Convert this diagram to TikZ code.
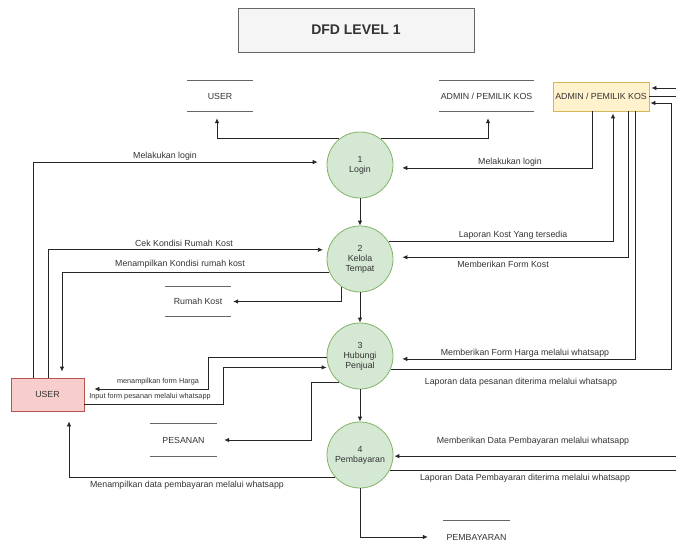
\documentclass[tikz,border=0pt]{standalone}
\usepackage{fontspec}
\setmainfont{Liberation Sans}
\usetikzlibrary{
    arrows.meta,
    calc,
    positioning
}
\definecolor{txt}{HTML}{333333}
\definecolor{procfill}{HTML}{D5E8D4}
\definecolor{procline}{HTML}{82B366}
\definecolor{userfill}{HTML}{F8CECC}
\definecolor{userline}{HTML}{B85450}
\definecolor{adminfill}{HTML}{FFF2CC}
\definecolor{adminline}{HTML}{D6B656}
\definecolor{titlefill}{HTML}{F5F5F5}
\definecolor{titleline}{HTML}{666666}

\begin{document}
\begin{tikzpicture}[x=1pt, y=-1pt, >={Latex[length=5pt,width=4.5pt]},
    every node/.style={font=\fontsize{8.8}{10}\selectfont, text=txt},
    proc/.style={circle, draw=procline, fill=procfill, line width=0.8pt,
        minimum size=66pt, inner sep=0pt, align=center},
    entity/.style={rectangle, line width=0.8pt, inner sep=0pt},
    store/.style={inner sep=0pt, minimum height=30pt},
    storeline/.style={draw=titleline, line width=0.8pt},
    lbl/.style={inner sep=0pt},
    small/.style={inner sep=0pt, font=\fontsize{7.3}{8}\selectfont},
    flow/.style={->, line width=0.8pt, draw=black!85}]
                    \path[use as bounding box, clip] (0,0) rectangle (676,548);

                    % entities, processes, stores
                    \node[entity, draw=titleline, fill=titlefill, minimum width=236pt, minimum height=44pt,
                        font=\fontsize{14}{16}\selectfont\bfseries] (judul) at (356, 30) {DFD LEVEL 1};
                    \node[entity, draw=adminline, fill=adminfill, minimum width=96pt, minimum height=29pt] (admin) at (601, 96.5) {ADMIN / PEMILIK KOS};
                    \node[entity, draw=userline, fill=userfill, minimum width=73pt, minimum height=33pt] (user) at (47.5, 394.5) {USER};

                    \node[proc] (c1) at (360, 165) {1\\Login};
                    \node[proc] (c2) at (360, 259) {2\\Kelola\\Tempat};
                    \node[proc] (c3) at (360, 356) {3\\Hubungi\\Penjual};
                    \node[proc] (c4) at (360, 455) {4\\Pembayaran};

                    \node[store, minimum width=66pt] (ustore) at (220, 96) {USER};
                    \node[store, minimum width=95pt] (astore) at (486.5, 96) {ADMIN / PEMILIK KOS};
                    \node[store, minimum width=66pt, minimum height=29pt] (rumah) at (198, 301.5) {Rumah Kost};
                    \node[store, minimum width=67pt, minimum height=33pt] (pesanan) at (183.5, 440) {PESANAN};
                    \node[store, minimum width=67pt, minimum height=32pt] (bayar) at (476.5, 537) {PEMBAYARAN};

                    \foreach \s in {ustore, astore, rumah, pesanan}
                        \draw[storeline] (\s.north west) -- (\s.north east) (\s.south west) -- (\s.south east);
                    \draw[storeline] (bayar.north west) -- (bayar.north east);

                    \coordinate (o1) at (690, 300);
                    \coordinate (o2) at (700, 300);

                    % flows
                    \draw
                    (c1) edge[flow] (c2)
                    (c2) edge[flow] (c3)
                    (c3) edge[flow] (c4);

                    \draw[flow, shorten >=7pt] (c1.128) -| ([xshift=-3pt]ustore.south);
                    \draw[flow, shorten >=7pt] (c1.52) -| ([xshift=1.5pt]astore.south);
                    \draw[flow, shorten >=9pt] ([xshift=-14.5pt]user.north) |- (c1.175);
                    \draw[flow, shorten >=9pt] ([xshift=-9pt]admin.south) |- (c1.-5);

                    \draw[flow, shorten >=5pt] ([xshift=0.5pt]user.north) |- (c2.164);
                    \draw[flow, shorten >=6pt] (c2.203) -| ([xshift=14.5pt]user.north);
                    \draw[flow, shorten >=2pt] (c2.237) |- (rumah.east);
                    \draw[flow, shorten >=2pt] (c2.31) -| ([xshift=12pt]admin.south);
                    \draw[flow, shorten >=9pt] ([xshift=27pt]admin.south) |- (c2.3);

                    \draw[flow, shorten >=9pt] ([xshift=34pt]admin.south) |- (c3.-5);
                    \draw[flow, shorten >=1pt] (c3.-23) -| ([xshift=22pt, yshift=-6.5pt]admin.east) -- ([yshift=-6.5pt]admin.east);
                    \draw[flow, shorten >=10pt] (c3.182) -- ++(-118, 0) |- ([yshift=5.5pt]user.east);
                    \draw[flow, shorten >=2pt] ([yshift=-9.5pt]user.east) -- ++(139, 0) |- (c3.200);
                    \draw[flow, shorten >=7pt] (c3.232) -- ++(-28, 0) |- (pesanan.east);

                    \draw[flow, shorten >=1pt] (admin.east) -| (o1) |- (c4.-2);
                    \draw[flow, shorten >=2pt] (c4.-27) -| (o2) |- ([yshift=8.5pt]admin.east);
                    \draw[flow, shorten >=10pt] (c4.222) -| ([xshift=21.5pt]user.south);
                    \draw[flow, shorten >=15pt] (c4.south) |- (bayar.west);

                    % labels
                    \node[lbl] (t1) at (165, 156) {Melakukan login};
                    \node[lbl] (t2) at (510, 162) {Melakukan login};
                    \node[lbl] (t3) at (184, 243) {Cek Kondisi Rumah Kost};
                    \node[lbl] (t4) at (180, 264) {Menampilkan Kondisi rumah kost};
                    \node[lbl] (t5) at (513, 235) {Laporan Kost Yang tersedia};
                    \node[lbl] (t6) at (503, 264) {Memberikan Form Kost};
                    \node[lbl] (t7) at (525, 353) {Memberikan Form Harga melalui whatsapp};
                    \node[lbl] (t8) at (521, 382) {Laporan data pesanan diterima melalui whatsapp};
                    \node[small] (t9) at (158, 382) {menampilkan form Harga};
                    \node[small] (t10) at (150, 397) {Input form pesanan melalui whatsapp};
                    \node[lbl] (t11) at (533, 441) {Memberikan Data Pembayaran melalui whatsapp};
                    \node[lbl] (t12) at (525, 478) {Laporan Data Pembayaran diterima melalui whatsapp};
                    \node[lbl] (t13) at (187, 485) {Menampilkan data pembayaran melalui whatsapp};
                \end{tikzpicture}
\end{document}
